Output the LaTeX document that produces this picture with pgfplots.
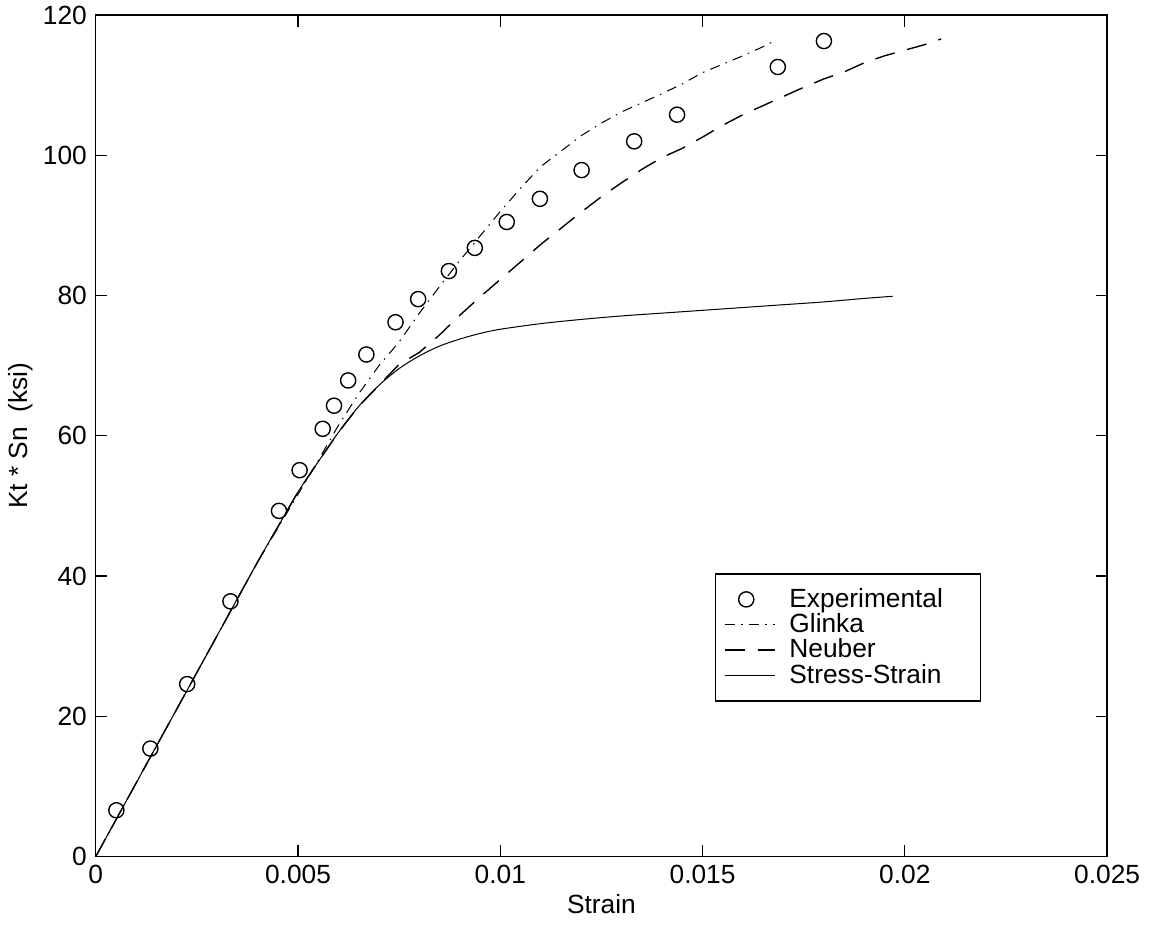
\documentclass[border=0pt]{standalone}
\usepackage{pgfplots}
\pgfplotsset{compat=1.18}
\usepackage{fontspec}
\setmainfont{Liberation Sans}

\pgfplotsset{ll/.style={legend image code/.code={\draw[##1] (0cm,0cm) -- (0.7cm,0cm);}}}

\begin{document}
\begin{tikzpicture}
\begin{axis}[
  scale only axis,
  width=140.5mm,
  height=116.9mm,
  xmin=0, xmax=0.025,
  ymin=0, ymax=120,
  xtick={0,0.005,0.01,0.015,0.02,0.025},
  xticklabels={0,0.005,0.01,0.015,0.02,0.025},
  ytick={0,20,40,60,80,100,120},
  scaled x ticks=false,
  tick align=inside,
  major tick length=1.6mm,
  axis line style={line width=0.6pt},
  every tick/.style={line width=0.5pt, black},
  /pgf/number format/assume math mode=true,
  tick label style={font=\fontsize{10.4}{12}\selectfont},
  label style={font=\fontsize{10.4}{12}\selectfont},
  xlabel={Strain},
  ylabel={Kt * Sn\ \ (ksi)},
  xlabel style={yshift=1mm},
  ylabel style={yshift=-1mm},
  legend cell align=left,
  legend style={at={(0.612,0.3365)}, anchor=north west,
    font=\fontsize{10.4}{11}\selectfont, draw=black, line width=0.5pt,
    row sep=-3pt, column sep=1.2mm, inner xsep=1.2mm, inner ysep=3.5pt},
]
\addplot[only marks, mark=o, mark size=3pt, line width=0.55pt] coordinates {
  (0.00051,6.6) (0.00135,15.4) (0.00226,24.6) (0.00333,36.4) (0.00453,49.3)
  (0.00504,55.1) (0.00561,61.0) (0.00589,64.3) (0.00624,67.9) (0.00669,71.6)
  (0.00741,76.2) (0.00797,79.5) (0.00873,83.5) (0.00937,86.8) (0.01016,90.5)
  (0.01098,93.8) (0.01201,97.9) (0.01331,102.0) (0.01437,105.8) (0.01686,112.6)
  (0.0180,116.3)
};
\addlegendentry{Experimental}
\addplot[ll, line width=0.4pt, dash pattern=on 4pt off 2.5pt on 0.6pt off 2.5pt] coordinates {
  (0,0) (0.002,21) (0.004,42) (0.0055,56.5) (0.006,61.5) (0.0065,66) (0.007,70)
  (0.0075,73.4) (0.008,77.5) (0.0085,81.3) (0.009,85) (0.0095,88.5) (0.01,92)
  (0.0105,95.3) (0.011,98.4) (0.0115,100.6) (0.012,102.8) (0.0125,104.6)
  (0.013,106.2) (0.0135,107.5) (0.014,108.8) (0.0145,110.2) (0.015,111.8)
  (0.0155,113.0) (0.016,114.2) (0.0165,115.5) (0.0168,116.4)
};
\addlegendentry{Glinka}
\addplot[ll, line width=0.55pt, dash pattern=on 8pt off 5pt] coordinates {
  (0,0) (0.002,21) (0.004,42) (0.005,52) (0.0055,56.3) (0.006,60.5) (0.0065,64.2)
  (0.007,67.2) (0.0075,70.2) (0.008,71.9) (0.0085,74.4) (0.009,77.2) (0.0095,79.8)
  (0.01,82.3) (0.0105,84.8) (0.011,87.3) (0.0115,89.6) (0.012,91.9) (0.0125,94.1)
  (0.013,96.1) (0.0135,98.0) (0.014,99.7) (0.0145,101.0) (0.015,102.6)
  (0.0155,104.3) (0.016,105.8) (0.0165,107.1) (0.017,108.4) (0.0175,109.7)
  (0.018,110.9) (0.0185,111.9) (0.019,113.2) (0.0195,114.2) (0.02,115.0)
  (0.0205,115.8) (0.0209,116.6)
};
\addlegendentry{Neuber}
\addplot[ll, line width=0.4pt, smooth] coordinates {
  (0,0) (0.001,10.5) (0.002,21) (0.003,31.5) (0.004,42) (0.0045,47) (0.005,52)
  (0.0055,56.3) (0.006,60.5) (0.0065,64.2) (0.007,67.2) (0.0075,69.6) (0.008,71.4)
  (0.0085,72.8) (0.009,73.8) (0.0095,74.6) (0.01,75.2) (0.011,76.0) (0.012,76.6)
  (0.013,77.1) (0.014,77.5) (0.015,77.9) (0.016,78.3) (0.017,78.7) (0.018,79.1)
  (0.019,79.6) (0.0197,79.9)
};
\addlegendentry{Stress-Strain\rule{3.5mm}{0pt}}
\end{axis}
\pgfresetboundingbox
\useasboundingbox ([xshift=-13.3mm,yshift=-9.6mm]current axis.south west)
  rectangle ([xshift=6.1mm,yshift=2.1mm]current axis.north east);
\end{tikzpicture}
\end{document}
